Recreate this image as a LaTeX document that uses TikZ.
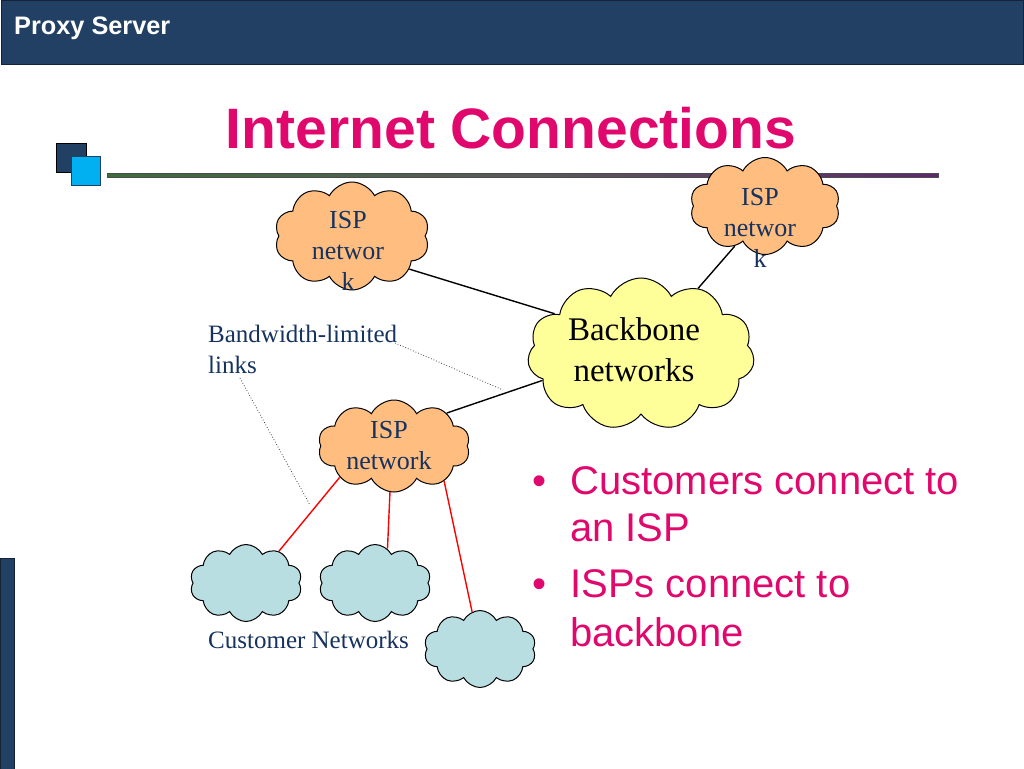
\documentclass[tikz,border=0pt]{standalone}
\usepackage{fontspec}
\setmainfont{Liberation Serif}
\setsansfont{Liberation Sans}
\usetikzlibrary{shapes.symbols}
\definecolor{hdr}{RGB}{33,64,99}
\definecolor{hdrline}{RGB}{20,35,55}
\definecolor{magenta}{RGB}{224,8,108}
\definecolor{navy}{RGB}{22,50,95}
\definecolor{ispfill}{RGB}{255,190,128}
\definecolor{bbfill}{RGB}{255,255,153}
\definecolor{custfill}{RGB}{185,222,226}
\definecolor{sqblue}{RGB}{0,176,240}
\definecolor{lgreen}{RGB}{60,110,60}
\definecolor{lpurple}{RGB}{95,40,110}
\begin{document}
\begin{tikzpicture}[x=1pt,y=-1pt,
  cloudbase/.style={cloud, cloud puffs=10, cloud puff arc=125, cloud ignores aspect, draw=black, line width=1pt, inner sep=0pt},
  ispcloud/.style={cloudbase, fill=ispfill},
  bbcloud/.style={cloudbase, fill=bbfill, cloud puffs=11},
  custcloud/.style={cloudbase, fill=custfill, minimum width=112pt, minimum height=77pt},
  isptext/.style={font=\fontsize{26}{31}\selectfont, text=navy, align=center, inner sep=0pt},
  labeltext/.style={font=\fontsize{25}{31}\selectfont, text=navy, align=left, inner sep=0pt},
  bullettext/.style={font=\sffamily\fontsize{40}{46}\selectfont, text=magenta, inner sep=0pt, anchor=base west},
  link/.style={draw=black, line width=1.4pt},
  redlink/.style={draw=red, line width=1.4pt},
  pointer/.style={draw=gray!50!black, line width=0.8pt, dotted}
]
\useasboundingbox (0,0) rectangle (1024,768);
% header
\node[draw=hdrline, fill=hdr, line width=1pt, minimum width=1022pt, minimum height=63pt, inner sep=0pt, anchor=north west] (header) at (0.5,0.5) {};
\node[font=\sffamily\bfseries\fontsize{25.3}{28}\selectfont, text=white, anchor=base west, inner sep=0pt] (hdrtext) at (14,35) {Proxy Server};
% left bar
\node[draw=hdrline, fill=hdr, line width=1pt, minimum width=14pt, minimum height=212pt, inner sep=0pt, anchor=north west] (leftbar) at (0,558) {};
% title
\node[font=\sffamily\bfseries\fontsize{57}{62}\selectfont, text=magenta, anchor=base, inner sep=0pt] (title) at (511,148) {Internet Connections};
% squares
\node[draw=black, fill=hdr, line width=0.8pt, minimum width=30pt, minimum height=29pt, inner sep=0pt, anchor=north west] (sq1) at (56,143) {};
\node[draw=hdr, fill=sqblue, line width=1pt, minimum width=29pt, minimum height=29pt, inner sep=0pt, anchor=north west] (sq2) at (71,156) {};
% rule
\node[draw=black!70, line width=0.5pt, left color=lgreen, right color=lpurple, middle color=black!65, minimum width=831pt, minimum height=4pt, inner sep=0pt, anchor=west] (rule) at (107,175.5) {};
% clouds
\node[ispcloud, minimum width=155pt, minimum height=108pt] (isp1) at (352,236) {};
\node[ispcloud, minimum width=150pt, minimum height=97pt] (isp2) at (765,206) {};
\node[bbcloud, minimum width=227pt, minimum height=152pt] (bb) at (641,354) {};
\node[ispcloud, minimum width=152pt, minimum height=92pt] (isp3) at (394,446) {};
\node[custcloud] (custA) at (246,583) {};
\node[custcloud] (custB) at (375,583) {};
\node[custcloud] (custC) at (480,649) {};
% cloud texts
\node[isptext] (isp1t) at (348,251) {ISP\\networ\\k};
\node[isptext] (isp2t) at (760,228) {ISP\\networ\\k};
\node[isptext] (isp3t) at (389,446) {ISP\\network};
\node[font=\fontsize{33}{41}\selectfont, text=black, align=center, inner sep=0pt] (bbt) at (634,350) {Backbone\\networks};
% links
\draw[link] (isp1.-30) -- (bb.155);
\draw[link] (bb.49) -- (isp2.-127);
\draw[link] (isp3.32) -- (bb.195);
\draw[redlink] (isp3.-150) -- (custA.44);
\draw[redlink] (isp3.-95) -- (custB.70);
\draw[redlink] (isp3.-35) -- (custC.102);
% labels
\node[labeltext, anchor=north west] (bwl) at (208,325) {Bandwidth-limited\\links};
\node[labeltext, anchor=base west] (custl) at (208,648) {Customer Networks};
\coordinate (p1s) at (395,343);
\coordinate (p1e) at (503,390);
\coordinate (p2s) at (240,378);
\coordinate (p2e) at (310,505);
\draw[pointer] (p1s) -- (p1e);
\draw[pointer] (p2s) -- (p2e);
% bullets
\node[bullettext] (b1) at (532,494) {•};
\node[bullettext] (b1a) at (570,494) {Customers connect to};
\node[bullettext] (b1b) at (570,541) {an ISP};
\node[bullettext] (b2) at (532,597) {•};
\node[bullettext] (b2a) at (570,597) {ISPs connect to};
\node[bullettext] (b2b) at (570,646) {backbone};
\end{tikzpicture}
\end{document}
